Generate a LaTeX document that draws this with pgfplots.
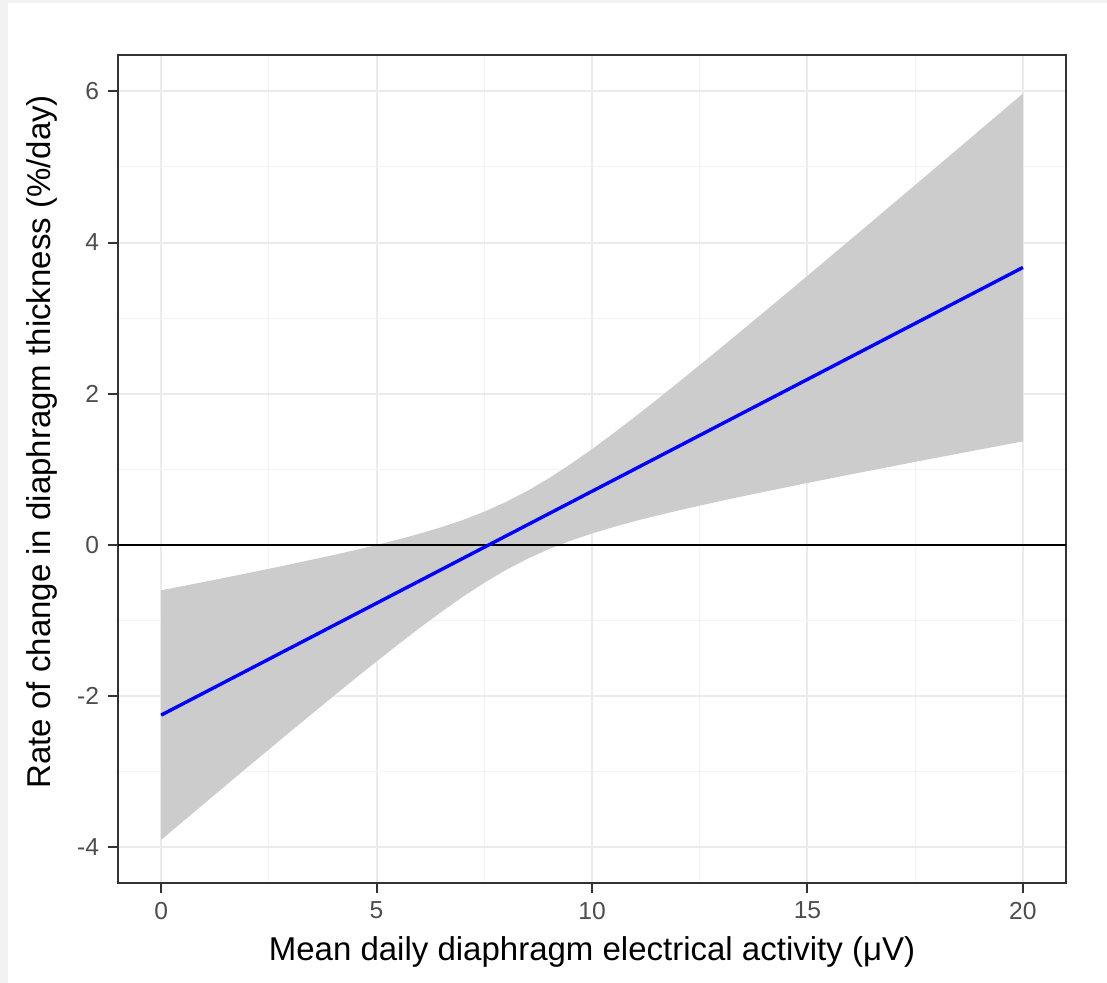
\documentclass[border=0pt]{standalone}
\usepackage{fontspec}
\setmainfont{Liberation Sans}
\usepackage{pgfplots}
\pgfplotsset{compat=1.18}
\definecolor{bgstrip}{HTML}{F2F2F2}
\definecolor{gridmaj}{HTML}{EBEBEB}
\definecolor{gridmin}{HTML}{F3F3F3}
\definecolor{border}{HTML}{333333}
\definecolor{ticklab}{HTML}{4D4D4D}
\definecolor{band}{HTML}{CCCCCC}
\begin{document}
\begin{tikzpicture}
\useasboundingbox (0,0) rectangle (553.5pt,491.5pt);
\fill[bgstrip] (0,0) rectangle (553.5pt,491.5pt);
\fill[white] (4pt,0) rectangle (553.5pt,490pt);
\begin{axis}[
  at={(59pt,50pt)}, anchor=south west,
  scale only axis, width=474pt, height=414pt,
  xmin=-1, xmax=21, ymin=-4.47, ymax=6.48,
  xtick={0,5,10,15,20},
  minor xtick={2.5,7.5,12.5,17.5},
  ytick={-4,-2,0,2,4,6},
  yticklabels={-4,-2,0,2,4,6},
  xticklabels={0,5,10,15,20},
  minor ytick={-3,-1,1,3,5},
  grid=both,
  major grid style={gridmaj, line width=1pt},
  minor grid style={gridmin, line width=0.5pt},
  axis line style={border, line width=1pt},
  tick align=outside,
  major tick length=5pt,
  minor tick length=0pt,
  tick style={border, line width=1pt},
  xtick pos=bottom, ytick pos=left,
  tick label style={font=\fontsize{12.3pt}{14pt}\selectfont, text=ticklab},
  xticklabel style={yshift=-1pt},
  yticklabel style={xshift=-1pt},
  xlabel={Mean daily diaphragm electrical activity (μV)},
  ylabel={Rate of change in diaphragm thickness (\%/day)},
  label style={font=\fontsize{16.5pt}{19pt}\selectfont, text=black},
  xlabel style={at={(axis description cs:0.5,-0.094)}, anchor=base},
  ylabel style={at={(axis description cs:-0.0717,0.533)}, anchor=base, rotate=0},
]
% confidence band (upper then lower reversed)
\addplot[fill=band, draw=none] coordinates {
(0,-0.600) (1,-0.488) (2,-0.374) (3,-0.256) (4,-0.133) (4.5,-0.068) (5,0.000) (5.5,0.072) (6,0.149) (6.5,0.235) (7,0.330) (7.5,0.440) (8,0.568) (8.5,0.715) (9,0.883) (9.5,1.068) (10,1.268) (10.5,1.478) (11,1.696) (11.5,1.920) (12,2.148) (13,2.612) (14,3.084) (15,3.560) (16,4.039) (17,4.520) (18,5.002) (19,5.486) (20,5.970)
(20,1.370) (19,1.262) (18,1.154) (17,1.044) (16,0.933) (15,0.820) (14,0.704) (13,0.584) (12,0.456) (11.5,0.388) (11,0.316) (10.5,0.238) (10,0.152) (9.5,0.056) (9,-0.055) (8.5,-0.183) (8,-0.332) (7.5,-0.500) (7,-0.686) (6.5,-0.887) (6,-1.097) (5.5,-1.316) (5,-1.540) (4.5,-1.768) (4,-1.999) (3,-2.468) (2,-2.942) (1,-3.420) (0,-3.900)
} -- cycle;
% zero line
\addplot[black, line width=0.9pt] coordinates {(-1,0) (21,0)};
% fitted line
\addplot[blue, line width=1.7pt] coordinates {(0,-2.25) (20,3.67)};
\end{axis}
\end{tikzpicture}
\end{document}
